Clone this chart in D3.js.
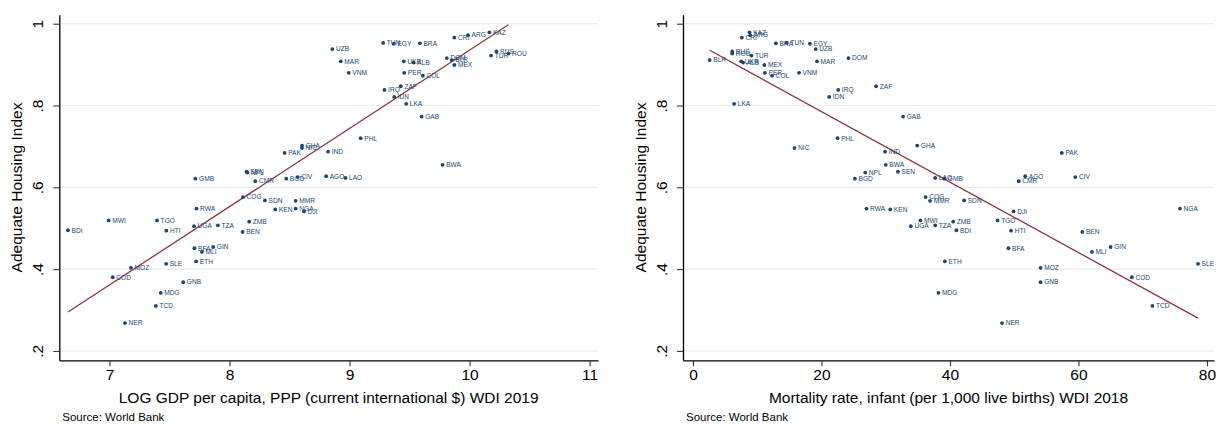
<!DOCTYPE html>
<html>
<head>
<meta charset="utf-8">
<script src="https://cdn.jsdelivr.net/npm/d3@7/dist/d3.min.js"></script>
<style>
  html, body { margin: 0; padding: 0; background: #ffffff; }
  svg { display: block; font-family: "Liberation Sans", Arial, Helvetica, sans-serif; }
</style>
</head>
<body>
<svg id="chart" width="1216" height="424"></svg>
<script>
// Country codes (ISO3)
const countries = [
  "UZB","MAR","VNM","TUN","EGY","BRA","CRI","ARG","KAZ","UKR",
  "ALB","DOM","BLR","MEX","RUS","TUR","ROU","PER","COL","ZAF",
  "IRQ","IDN","LKA","GAB","PHL","GHA","NIC","PAK","IND","BWA",
  "GMB","SEN","NPL","BGD","CIV","LAO","CMR","AGO","COG","SDN",
  "MMR","RWA","KEN","NGA","DJI","ZMB","TZA","UGA","BEN","BDI",
  "MWI","TGO","HTI","BFA","GIN","MLI","ETH","SLE","MOZ","COD",
  "GNB","MDG","TCD","NER"
];

// Adequate Housing Index
const housingIndex = [
  0.938,0.908,0.880,0.953,0.951,0.952,0.966,0.972,0.979,0.908,
  0.905,0.916,0.911,0.899,0.932,0.922,0.927,0.880,0.873,0.847,
  0.838,0.821,0.804,0.773,0.720,0.702,0.696,0.684,0.687,0.655,
  0.621,0.638,0.636,0.621,0.625,0.623,0.615,0.627,0.576,0.568,
  0.567,0.548,0.546,0.548,0.541,0.516,0.507,0.505,0.491,0.495,
  0.519,0.519,0.494,0.451,0.454,0.442,0.419,0.413,0.403,0.380,
  0.368,0.342,0.310,0.268
];

// LOG GDP per capita, PPP (current international $), WDI 2019
const logGdp = [
  8.857,8.927,8.993,9.280,9.369,9.586,9.873,9.987,10.165,9.452,
  9.533,9.811,9.851,9.873,10.224,10.179,10.324,9.456,9.611,9.427,
  9.291,9.372,9.472,9.600,9.093,8.604,8.604,8.459,8.821,9.775,
  7.716,8.142,8.150,8.473,8.568,8.966,8.215,8.805,8.112,8.295,
  8.551,7.725,8.381,8.551,8.621,8.164,7.903,7.704,8.109,6.654,
  6.993,7.396,7.474,7.708,7.864,7.770,7.722,7.472,7.179,7.027,
  7.614,7.427,7.386,7.129
];

// Mortality rate, infant (per 1,000 live births), WDI 2018
const infantMortality = [
  19.1,19.3,16.5,14.6,18.2,12.9,7.6,8.9,8.8,7.5,
  7.8,24.2,2.6,11.1,6.1,9.1,6.1,11.2,12.3,28.5,
  22.6,21.2,6.4,32.7,22.5,34.9,15.8,57.4,29.9,30.0,
  39.1,31.9,26.8,25.2,59.5,37.7,50.7,51.7,36.2,42.2,
  36.9,27.0,30.7,75.8,49.9,40.5,37.7,33.9,60.6,41.0,
  35.4,47.4,49.5,49.1,65.0,62.1,39.2,78.6,54.1,68.3,
  54.1,38.2,71.5,48.1
];

const yTicks = [0.2, 0.4, 0.6, 0.8, 1];
const yTickLabels = [".2", ".4", ".6", ".8", "1"];
const gdpTicks = [7, 8, 9, 10, 11];
const mortalityTicks = [0, 20, 40, 60, 80];

const yTitle = "Adequate Housing Index";
const gdpTitle = "LOG GDP per capita, PPP (current international $) WDI 2019";
const mortalityTitle = "Mortality rate, infant (per 1,000 live births) WDI 2018";
const sourceNote = "Source: World Bank";

const markerColor = "#1a476f";
const fitColor = "#90353b";
const gridColor = "#e6eef1";

const svg = d3.select("#chart");

// Ordinary least squares fit of y on x
function linearFit(xs, ys) {
  const mx = d3.mean(xs), my = d3.mean(ys);
  let sxy = 0, sxx = 0;
  xs.forEach((x, i) => { sxy += (x - mx) * (ys[i] - my); sxx += (x - mx) * (x - mx); });
  const slope = sxy / sxx;
  return { slope, intercept: my - slope * mx };
}

function drawPanel(cfg) {
  const g = svg.append("g");
  const x = d3.scaleLinear().domain(cfg.xDomain).range([cfg.left, cfg.right]);
  const y = d3.scaleLinear().domain([0.177, 1.022]).range([360.3, 14.7]);

  // horizontal grid lines
  g.append("g").selectAll("line").data(yTicks).join("line")
    .attr("x1", cfg.left).attr("x2", cfg.right)
    .attr("y1", d => y(d)).attr("y2", d => y(d))
    .attr("stroke", gridColor).attr("stroke-width", 1.2);

  // y axis
  const yAxis = d3.axisLeft(y).tickValues(yTicks)
    .tickFormat((d, i) => yTickLabels[i]).tickSize(6).tickSizeOuter(0);
  const ya = g.append("g").attr("transform", `translate(${cfg.left},0)`).call(yAxis);
  ya.select(".domain").attr("stroke", "#000").attr("stroke-width", 1.3);
  ya.selectAll(".tick line").attr("stroke", "#333").attr("stroke-width", 1.1);
  ya.selectAll(".tick text")
    .attr("font-size", 15.5).attr("fill", "#000")
    .attr("text-anchor", "middle")
    .attr("x", null).attr("dy", null)
    .attr("transform", "translate(-16,0) rotate(-90)");

  // x axis
  const xAxis = d3.axisBottom(x).tickValues(cfg.xTicks)
    .tickFormat(d => String(d)).tickSize(6).tickSizeOuter(0);
  const xa = g.append("g").attr("transform", "translate(0,360.3)").call(xAxis);
  xa.select(".domain").attr("stroke", "#000").attr("stroke-width", 1.3);
  xa.selectAll(".tick line").attr("stroke", "#333").attr("stroke-width", 1.1);
  xa.selectAll(".tick text").attr("font-size", 15.5).attr("fill", "#000")
    .attr("y", 9).attr("dy", "0.71em");

  // fitted line across the observed range
  const fit = linearFit(cfg.xValues, housingIndex);
  const [xmin, xmax] = d3.extent(cfg.xValues);
  g.append("line")
    .attr("x1", x(xmin)).attr("y1", y(fit.intercept + fit.slope * xmin))
    .attr("x2", x(xmax)).attr("y2", y(fit.intercept + fit.slope * xmax))
    .attr("stroke", fitColor).attr("stroke-width", 1.3);

  // labelled country markers
  const pts = g.append("g").selectAll("g").data(countries).join("g")
    .attr("transform", (d, i) => `translate(${x(cfg.xValues[i])},${y(housingIndex[i])})`);
  pts.append("circle").attr("r", 1.9).attr("fill", markerColor);
  pts.append("text").text(d => d)
    .attr("x", 3.6).attr("dy", "0.35em")
    .attr("font-size", 6.6).attr("fill", markerColor);

  // titles
  g.append("text")
    .attr("transform", `translate(${cfg.left - 37},${(14.7 + 360.3) / 2}) rotate(-90)`)
    .attr("text-anchor", "middle").attr("font-size", 15.5).attr("fill", "#000")
    .text(yTitle);
  g.append("text")
    .attr("x", (cfg.left + cfg.right) / 2).attr("y", 403)
    .attr("text-anchor", "middle").attr("font-size", 15.5).attr("fill", "#000")
    .text(cfg.xTitle);
  g.append("text")
    .attr("x", cfg.left + 3).attr("y", 421)
    .attr("font-size", 11.5).attr("fill", "#000")
    .text(sourceNote);
}

drawPanel({
  left: 59.3, right: 598,
  xDomain: [6.582, 11.07],
  xTicks: gdpTicks, xValues: logGdp, xTitle: gdpTitle
});

drawPanel({
  left: 683, right: 1214,
  xDomain: [-1.556, 81.09],
  xTicks: mortalityTicks, xValues: infantMortality, xTitle: mortalityTitle
});
</script>
</body>
</html>
